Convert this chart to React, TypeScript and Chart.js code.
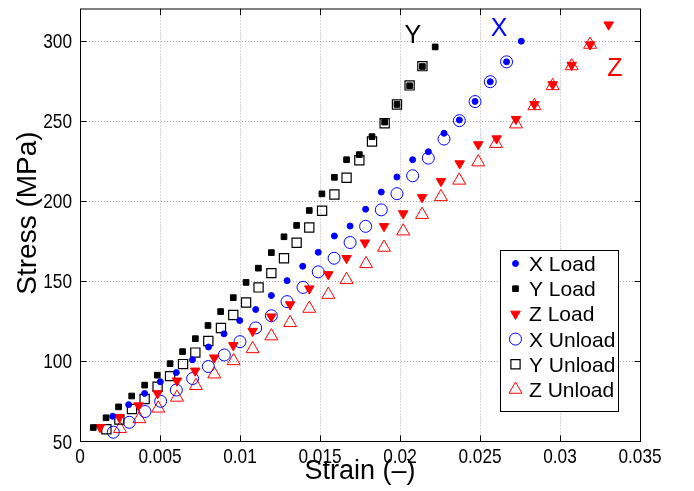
import React, { useEffect, useRef } from "react";
import { Chart, registerables } from "chart.js";

Chart.register(...registerables);

// ---- Data ----
const xLoadStrain = [0.00204,0.00304,0.00404,0.00502,0.00602,0.00703,0.00803,0.00900,0.00998,0.01098,0.01196,0.01294,0.01392,0.01489,0.01590,0.01688,0.01785,0.01883,0.01981,0.02079,0.02177,0.02275,0.02371,0.02469,0.02564,0.02666,0.02758];
const xLoadStress = [65.4,72.7,79.7,87.0,92.7,100.7,108.7,116.9,125.2,132.1,140.8,150.1,159.1,167.8,178.0,184.2,194.7,205.4,214.8,225.6,230.6,242.1,250.4,262.0,274.3,286.7,299.6];

const yLoadStrain = [0.00083,0.00163,0.00241,0.00323,0.00404,0.00483,0.00563,0.00641,0.00721,0.00800,0.00879,0.00958,0.01038,0.01115,0.01196,0.01275,0.01354,0.01433,0.01512,0.01590,0.01666,0.01746,0.01825,0.01904,0.01981,0.02060,0.02140,0.02220];
const yLoadStress = [58.4,64.5,71.3,78.1,84.9,91.1,98.3,105.8,113.9,122.1,130.8,139.5,149.0,157.9,167.6,177.5,184.6,193.9,204.3,214.6,225.6,228.8,240.0,249.1,260.1,271.8,283.8,296.0];

const zLoadStrain = [0.00125,0.00246,0.00366,0.00485,0.00606,0.00720,0.00839,0.00958,0.01079,0.01196,0.01313,0.01433,0.01552,0.01666,0.01781,0.01900,0.02020,0.02138,0.02256,0.02373,0.02489,0.02604,0.02725,0.02840,0.02954,0.03073,0.03188,0.03304];
const zLoadStress = [58.6,64.8,72.1,79.7,87.6,93.8,102.0,109.7,118.6,127.6,135.2,145.1,154.0,164.1,173.8,184.0,192.0,202.1,212.2,223.2,235.1,238.8,250.9,260.2,272.6,284.7,297.5,309.9];

const xUnloadStrain = [0.00208,0.00308,0.00406,0.00504,0.00602,0.00704,0.00802,0.00902,0.01000,0.01098,0.01196,0.01294,0.01394,0.01489,0.01588,0.01688,0.01785,0.01883,0.01981,0.02079,0.02177,0.02275,0.02371,0.02469,0.02564,0.02666];
const xUnloadStress = [55.5,61.7,68.4,74.8,81.8,89.0,96.5,103.7,112.0,120.6,128.2,137.0,145.9,155.6,164.1,173.9,184.0,194.3,204.4,215.6,226.6,238.5,250.0,261.9,274.3,286.7];

const yUnloadStrain = [0.00165,0.00246,0.00325,0.00404,0.00485,0.00563,0.00644,0.00721,0.00802,0.00881,0.00958,0.01038,0.01116,0.01196,0.01275,0.01354,0.01433,0.01513,0.01590,0.01666,0.01746,0.01825,0.01904,0.01981,0.02060,0.02140];
const yUnloadStress = [57.3,63.4,70.0,76.2,83.9,90.5,98.0,105.2,112.4,120.5,128.7,136.5,145.9,154.8,164.1,173.8,183.3,193.7,203.9,214.3,225.3,237.0,248.4,260.1,272.0,284.0];

const zUnloadStrain = [0.00250,0.00371,0.00489,0.00606,0.00725,0.00839,0.00960,0.01079,0.01196,0.01313,0.01433,0.01552,0.01666,0.01788,0.01900,0.02020,0.02138,0.02256,0.02370,0.02489,0.02600,0.02725,0.02840,0.02954,0.03073,0.03188];
const zUnloadStress = [57.6,63.8,70.4,77.2,84.5,91.7,100.0,107.5,115.5,123.8,132.7,141.4,150.7,160.6,170.8,181.0,191.3,202.4,212.7,224.1,235.6,247.8,259.2,271.7,284.1,297.5];

const seriesNames = ["X Load", "Y Load", "Z Load", "X Unload", "Y Unload", "Z Unload"];
const xTicks = [0, 0.005, 0.01, 0.015, 0.02, 0.025, 0.03, 0.035];
const xTickLabels = ["0", "0.005", "0.01", "0.015", "0.02", "0.025", "0.03", "0.035"];
const yTicks = [50, 100, 150, 200, 250, 300];
const yTickLabels = ["50", "100", "150", "200", "250", "300"];
const xTitle = "Strain (\u2013)";
const yTitle = "Stress (MPa)";
const directionLabels = ["Y", "X", "Z"];
const directionLabelStrain = [0.0208, 0.0262, 0.03343];
const directionLabelStress = [304, 308.4, 283.3];

// ---- Styles ----
const BLUE = "#0000ff";
const RED = "#ff0000";
const BLACK = "#000000";
const REGULAR = "'Liberation Sans', Arial, Helvetica, sans-serif";

type MarkerStyle = { shape: string; r: number; fill: string; stroke: string; lw: number; rot: number };
const markerStyles: MarkerStyle[] = [
  { shape: "circle", r: 3, fill: BLUE, stroke: BLUE, lw: 1, rot: 0 },
  { shape: "rect", r: 4, fill: BLACK, stroke: BLACK, lw: 1, rot: 0 },
  { shape: "triangle", r: 5.5, fill: RED, stroke: RED, lw: 1, rot: 180 },
  { shape: "circle", r: 6, fill: "rgba(0,0,0,0)", stroke: BLUE, lw: 1, rot: 0 },
  { shape: "rect", r: 6.5, fill: "rgba(0,0,0,0)", stroke: BLACK, lw: 1.2, rot: 0 },
  { shape: "triangle", r: 7.5, fill: "rgba(0,0,0,0)", stroke: RED, lw: 1, rot: 0 },
];
const directionColors = [BLACK, BLUE, RED];

function drawMarker(ctx: CanvasRenderingContext2D, m: MarkerStyle, x: number, y: number) {
  ctx.save();
  ctx.beginPath();
  if (m.shape === "circle") {
    ctx.arc(x, y, m.r, 0, Math.PI * 2);
  } else if (m.shape === "rect") {
    const s = Math.SQRT1_2 * m.r;
    ctx.rect(x - s, y - s, 2 * s, 2 * s);
  } else {
    let rad = (m.rot * Math.PI) / 180;
    ctx.moveTo(x + Math.sin(rad) * m.r, y - Math.cos(rad) * m.r);
    rad += (2 * Math.PI) / 3;
    ctx.lineTo(x + Math.sin(rad) * m.r, y - Math.cos(rad) * m.r);
    rad += (2 * Math.PI) / 3;
    ctx.lineTo(x + Math.sin(rad) * m.r, y - Math.cos(rad) * m.r);
    ctx.closePath();
  }
  ctx.fillStyle = m.fill;
  ctx.fill();
  ctx.lineWidth = m.lw;
  ctx.strokeStyle = m.stroke;
  ctx.stroke();
  ctx.restore();
}

function narrowText(ctx: CanvasRenderingContext2D, text: string, x: number, y: number, align: string) {
  const k = 0.82;
  ctx.save();
  ctx.translate(x, y);
  ctx.scale(k, 1);
  ctx.textAlign = align as CanvasTextAlign;
  ctx.fillText(text, 0, 0);
  ctx.restore();
}

const matlabPlugin = {
  id: "matlabLook",
  beforeDatasetsDraw(chart: any) {
    const { ctx, chartArea: a, scales } = chart;
    const xs = scales.x, ys = scales.y;
    ctx.save();
    ctx.strokeStyle = "#a8a8a8";
    ctx.lineWidth = 1;
    ctx.setLineDash([1, 2]);
    for (const v of xTicks) {
      const px = Math.round(xs.getPixelForValue(v)) + 0.5;
      if (px < a.left + 2 || px > a.right - 2) continue;
      ctx.beginPath(); ctx.moveTo(px, a.top); ctx.lineTo(px, a.bottom); ctx.stroke();
    }
    for (const v of yTicks) {
      const py = Math.round(ys.getPixelForValue(v)) + 0.5;
      if (py < a.top + 2 || py > a.bottom - 2) continue;
      ctx.beginPath(); ctx.moveTo(a.left, py); ctx.lineTo(a.right, py); ctx.stroke();
    }
    ctx.restore();
  },
  afterDatasetsDraw(chart: any) {
    const { ctx, chartArea: a, scales } = chart;
    const xs = scales.x, ys = scales.y;
    const L = a.left + 0.5, R = a.right + 0.5, T = a.top + 0.5, B = a.bottom + 0.5;
    ctx.save();
    ctx.strokeStyle = BLACK;
    ctx.lineWidth = 1;
    ctx.setLineDash([]);
    ctx.strokeRect(L, T, R - L, B - T);
    const tl = 6;
    for (const v of xTicks) {
      const px = Math.round(xs.getPixelForValue(v)) + 0.5;
      ctx.beginPath(); ctx.moveTo(px, B); ctx.lineTo(px, B - tl); ctx.stroke();
      ctx.beginPath(); ctx.moveTo(px, T); ctx.lineTo(px, T + tl); ctx.stroke();
    }
    for (const v of yTicks) {
      const py = Math.round(ys.getPixelForValue(v)) + 0.5;
      ctx.beginPath(); ctx.moveTo(L, py); ctx.lineTo(L + tl, py); ctx.stroke();
      ctx.beginPath(); ctx.moveTo(R, py); ctx.lineTo(R - tl, py); ctx.stroke();
    }
    ctx.restore();
  },
  afterDraw(chart: any) {
    const { ctx, chartArea: a, scales } = chart;
    const xs = scales.x, ys = scales.y;
    ctx.save();
    ctx.fillStyle = BLACK;

    // tick labels (condensed, MATLAB-like)
    ctx.font = `21px ${REGULAR}`;
    ctx.textBaseline = "alphabetic";
    xTicks.forEach((v, i) => {
      narrowText(ctx, xTickLabels[i], xs.getPixelForValue(v), 463, "center");
    });
    yTicks.forEach((v, i) => {
      narrowText(ctx, yTickLabels[i], 72, ys.getPixelForValue(v) + 7.5, "right");
    });

    // axis titles
    ctx.font = `27px ${REGULAR}`;
    ctx.textAlign = "center";
    ctx.textBaseline = "middle";
    ctx.fillText(xTitle, (a.left + a.right) / 2, 472);
    ctx.save();
    ctx.font = `28px ${REGULAR}`;
    ctx.translate(28, 213);
    ctx.rotate(-Math.PI / 2);
    ctx.textAlign = "center";
    ctx.fillText(yTitle, 0, 0);
    ctx.restore();

    // direction labels
    ctx.font = `25px ${REGULAR}`;
    ctx.textAlign = "center";
    ctx.textBaseline = "alphabetic";
    directionLabels.forEach((t, i) => {
      ctx.fillStyle = directionColors[i];
      const px = xs.getPixelForValue(directionLabelStrain[i]);
      const py = ys.getPixelForValue(directionLabelStress[i]);
      ctx.fillText(t, px, py + 9);
    });

    // legend
    const bx = 500.5, by = 250.5, bw = 118, bh = 161;
    ctx.fillStyle = "#ffffff";
    ctx.fillRect(bx, by, bw, bh);
    ctx.strokeStyle = BLACK;
    ctx.lineWidth = 1;
    ctx.strokeRect(bx, by, bw, bh);
    ctx.font = `21px ${REGULAR}`;
    ctx.textAlign = "left";
    ctx.textBaseline = "alphabetic";
    seriesNames.forEach((name, i) => {
      const cy = 263.5 + i * 25.2;
      drawMarker(ctx, markerStyles[i], 515.5, cy);
      ctx.fillStyle = BLACK;
      ctx.fillText(name, 529, cy + 7.5);
    });
    ctx.restore();
  },
};

function toPoints(xs: number[], ys: number[]) {
  return xs.map((x, i) => ({ x, y: ys[i] }));
}

export default function App() {
  const canvasRef = useRef<HTMLCanvasElement | null>(null);

  useEffect(() => {
    if (!canvasRef.current) return;
    const series = [
      toPoints(xLoadStrain, xLoadStress),
      toPoints(yLoadStrain, yLoadStress),
      toPoints(zLoadStrain, zLoadStress),
      toPoints(xUnloadStrain, xUnloadStress),
      toPoints(yUnloadStrain, yUnloadStress),
      toPoints(zUnloadStrain, zUnloadStress),
    ];
    const datasets = series.map((data, i) => {
      const m = markerStyles[i];
      return {
        label: seriesNames[i],
        data,
        showLine: false,
        pointStyle: m.shape,
        pointRadius: m.r,
        pointHoverRadius: m.r,
        pointRotation: m.rot,
        pointBackgroundColor: m.fill,
        pointBorderColor: m.stroke,
        pointBorderWidth: m.lw,
        backgroundColor: m.fill,
        borderColor: m.stroke,
        order: i,
      };
    });

    const chart = new Chart(canvasRef.current, {
      type: "scatter",
      data: { datasets },
      options: {
        animation: false,
        responsive: false,
        devicePixelRatio: 1,
        layout: { padding: { top: 5, right: 54, left: 0, bottom: 0 } },
        plugins: { legend: { display: false }, tooltip: { enabled: false } },
        scales: {
          x: {
            type: "linear",
            min: 0,
            max: 0.035,
            grid: { display: false, drawTicks: false },
            border: { display: false },
            afterBuildTicks: (s: any) => { s.ticks = xTicks.map((v) => ({ value: v })); },
            afterFit: (s: any) => { s.height = 50; },
            ticks: { display: false },
          },
          y: {
            type: "linear",
            min: 50,
            max: 320,
            grid: { display: false, drawTicks: false },
            border: { display: false },
            afterBuildTicks: (s: any) => { s.ticks = yTicks.map((v) => ({ value: v })); },
            afterFit: (s: any) => { s.width = 80; },
            ticks: { display: false },
          },
        },
      },
      plugins: [matlabPlugin],
    } as any);

    return () => chart.destroy();
  }, []);

  return (
    <div style={{ position: "absolute", left: 0, top: 0, width: 694, height: 491, background: "#fff" }}>
      <canvas ref={canvasRef} width={694} height={491} style={{ display: "block" }} />
    </div>
  );
}
